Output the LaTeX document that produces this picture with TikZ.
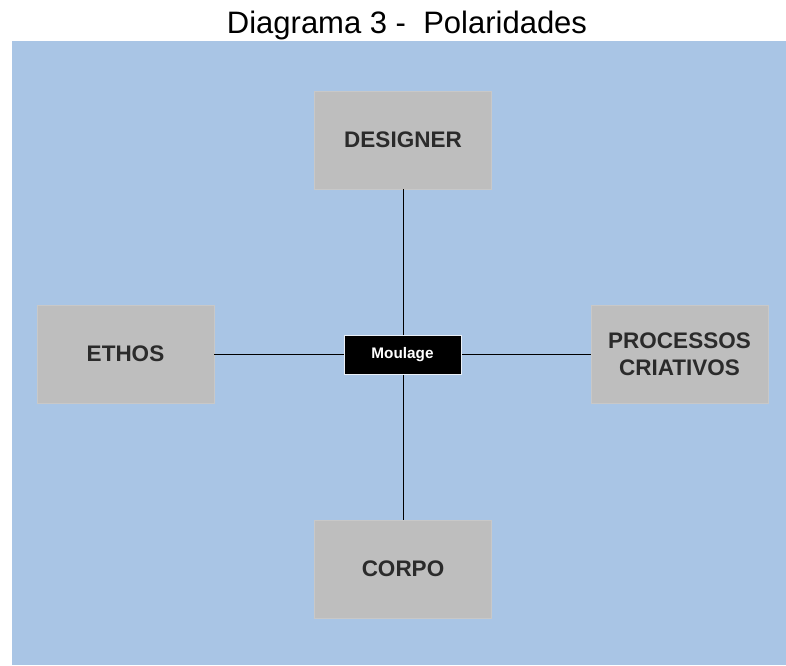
\documentclass[tikz,border=0pt]{standalone}
\usepackage{fontspec}
\setmainfont{Liberation Sans}
\begin{document}
\definecolor{panelblue}{HTML}{A9C5E5}
\definecolor{boxgray}{HTML}{BEBEBE}
\definecolor{labelgray}{HTML}{2B2B2B}
\begin{tikzpicture}[x=1pt,y=-1pt,
  pole/.style={fill=boxgray, draw=boxgray!85!white, line width=0.8pt,
    minimum width=177pt, minimum height=98pt, inner sep=0pt,
    font=\fontsize{22.5}{27}\selectfont\bfseries, text=labelgray, align=center},
  hub/.style={fill=black, draw=white!75!panelblue, line width=0.6pt,
    minimum width=117pt, minimum height=39pt, inner sep=0pt,
    font=\fontsize{15.3}{17}\selectfont\bfseries, text=white},
  link/.style={draw=black, line width=1pt}]
  \useasboundingbox (0,0) rectangle (786,665);
  % background panel and title
  \fill[panelblue] (12,41) rectangle (786,665);
  \node[anchor=base, font=\fontsize{31}{35}\selectfont] (title) at (407,33)
    {Diagrama 3 -\ \ Polaridades};
  % the four poles
  \node[pole] (designer) at (403,140) {DESIGNER};
  \node[pole] (ethos) at (125.5,354) {ETHOS};
  \node[pole] (processos) at (679.5,354) {PROCESSOS\\CRIATIVOS};
  \node[pole] (corpo) at (403,569) {CORPO};
  % axes crossing behind the centre
  \draw[link] (designer.south) -- (corpo.north);
  \draw[link] (ethos.east) -- (processos.west);
  % centre node
  \node[hub] (moulage) at (402.5,354.5) {Moulage};
\end{tikzpicture}
\end{document}
